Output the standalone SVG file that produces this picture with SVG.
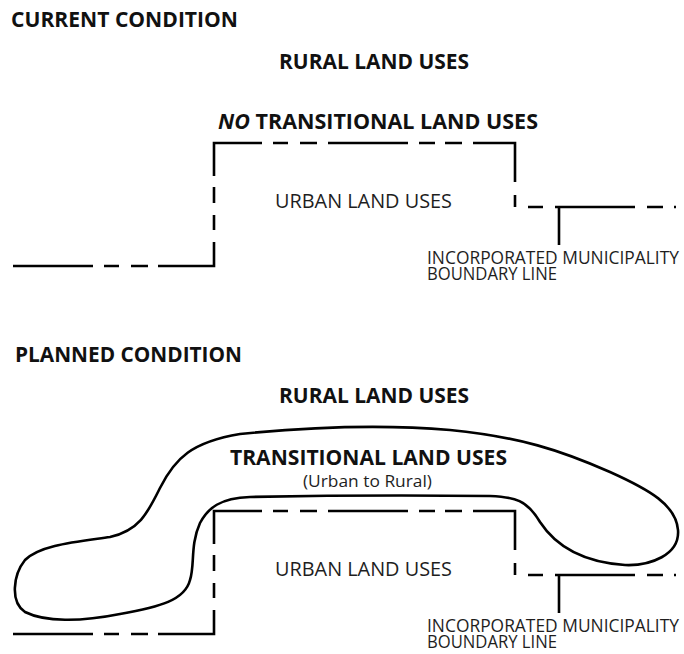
<svg xmlns="http://www.w3.org/2000/svg" width="684" height="654" viewBox="0 0 684 654">
<style>
.bg{fill:#ffffff}
.h{font-family:"Open Sans","Liberation Sans",sans-serif;font-weight:700;font-size:21.6px;fill:#111}
.l{font-family:"Open Sans","Liberation Sans",sans-serif;font-weight:400;font-size:17.3px;fill:#1e1e1e}
.u{font-family:"Open Sans","Liberation Sans",sans-serif;font-weight:400;font-size:20px;fill:#1e1e1e}
.s{font-family:"Open Sans","Liberation Sans",sans-serif;font-weight:400;font-size:17px;fill:#1e1e1e}
.ln{fill:none;stroke:#000;stroke-width:2.6;stroke-linecap:butt;stroke-linejoin:miter}
.blob{fill:none;stroke:#000;stroke-width:2.6;stroke-linejoin:round}
</style>
<defs>
<path id="boundary" class="ln" d="M13 266H93 M104 266H119 M131 266H148 M158 266H214 V242 M214 230V215 M214 203V187 M214 176V143 H262 M273 143H288 M300 143H317 M328 143H408 M419 143H435 M445 143H462 M473 143H515 V182 M515 195V207 M528 207H543 M555 207H635 M647 207H663 M674 207H676 M559 207V245"/>
</defs>
<rect class="bg" x="0" y="0" width="684" height="654"/>

<g id="current-condition">
  <text class="h" x="11" y="27" textLength="227" lengthAdjust="spacingAndGlyphs">CURRENT CONDITION</text>
  <g id="rural-top"><text class="h" x="279" y="69" textLength="190" lengthAdjust="spacingAndGlyphs">RURAL LAND USES</text></g>
  <g id="no-transitional"><text class="h" x="218" y="129" textLength="320" lengthAdjust="spacingAndGlyphs"><tspan font-style="italic">NO</tspan> TRANSITIONAL LAND USES</text></g>
  <g id="urban-top"><text class="u" x="275" y="208" textLength="177" lengthAdjust="spacingAndGlyphs">URBAN LAND USES</text></g>
  <g id="boundary-label-top">
    <text class="l" x="427" y="264" textLength="252" lengthAdjust="spacingAndGlyphs">INCORPORATED MUNICIPALITY</text>
    <text class="l" x="427" y="280" textLength="130" lengthAdjust="spacingAndGlyphs">BOUNDARY LINE</text>
  </g>
</g>

<g id="planned-condition">
  <text class="h" x="15" y="362" textLength="227" lengthAdjust="spacingAndGlyphs">PLANNED CONDITION</text>
  <g id="rural-bottom"><text class="h" x="279" y="403" textLength="190" lengthAdjust="spacingAndGlyphs">RURAL LAND USES</text></g>
  <g id="transitional"><text class="h" x="230" y="465" textLength="277" lengthAdjust="spacingAndGlyphs">TRANSITIONAL LAND USES</text>
    <text class="s" x="303" y="487" textLength="129" lengthAdjust="spacingAndGlyphs">(Urban to Rural)</text></g>
  <g id="urban-bottom"><text class="u" x="275" y="576" textLength="177" lengthAdjust="spacingAndGlyphs">URBAN LAND USES</text></g>
  <g id="boundary-label-bottom">
    <text class="l" x="427" y="632" textLength="252" lengthAdjust="spacingAndGlyphs">INCORPORATED MUNICIPALITY</text>
    <text class="l" x="427" y="648" textLength="130" lengthAdjust="spacingAndGlyphs">BOUNDARY LINE</text>
  </g>
</g>

<g id="connectors">
  <use href="#boundary"/>
  <use href="#boundary" transform="translate(0,368)"/>
  <path id="transitional-outline" class="blob" d="M110 537 C140 530 148 512 160 488 C175 458 192 442 240 434 C300 428 380 424 450 430 C520 437 560 450 610 472 C650 490 676 505 678 530 C680 555 650 566 625 565 C580 562 555 545 540 522 C527 500 515 497 490 496 C400 495 300 496 250 497 C220 498 208 508 200 523 C190 545 195 565 190 580 C185 600 160 607 120 614 C80 622 45 622 25 612 C10 602 13 575 25 560 C40 545 75 542 110 537 Z"/>
</g>
</svg>
